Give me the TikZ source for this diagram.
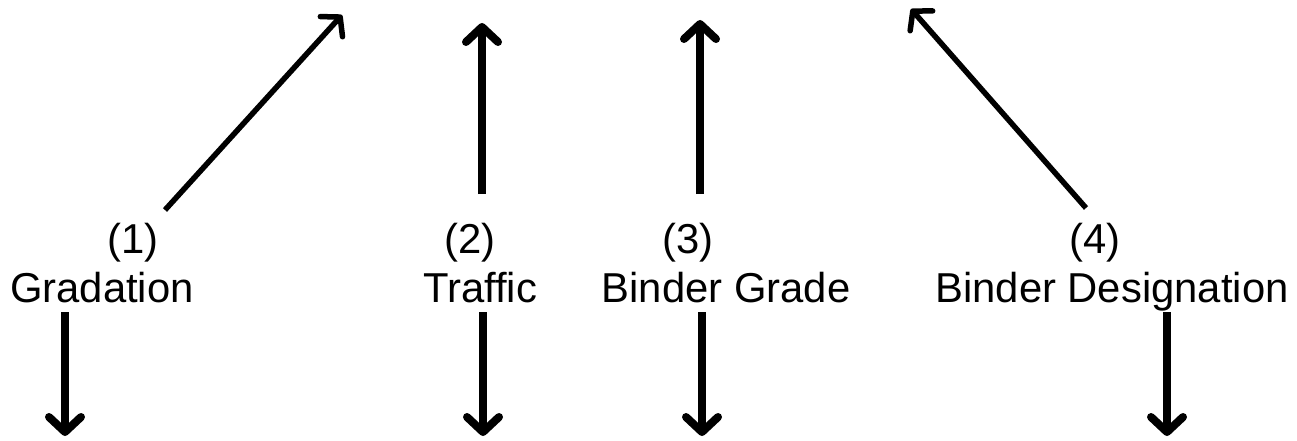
\documentclass[tikz,border=0pt]{standalone}
\usepackage{fontspec}
\setmainfont[Ligatures=NoCommon]{Liberation Sans}
\usetikzlibrary{arrows.meta}

\tikzset{
  factor/.style={font=\fontsize{41.8}{49}\selectfont, inner sep=0pt, anchor=base},
  thickarrow/.style={line width=8pt, -{Straight Barb[round,length=15pt,width=32pt]}},
  thinarrow/.style={line width=5.5pt, -{Straight Barb[round,length=13pt,width=30pt]}}
}

\begin{document}
\begin{tikzpicture}[x=1pt, y=-1pt]
    \useasboundingbox (0,0) rectangle (1297,440);
    % factor labels
    \node[factor] (num1) at (133,253) {(1)};
    \node[factor] (grad) at (102,302) {Gradation};
    \node[factor] (num2) at (470,253) {(2)};
    \node[factor] (traf) at (480,302) {Traffic};
    \node[factor] (num3) at (688,253) {(3)};
    \node[factor] (bgrade) at (726,302) {Binder Grade};
    \node[factor] (num4) at (1095,253) {(4)};
    \node[factor] (bdesig) at (1112,302) {Binder Designation};
    % arrows going up
    \coordinate (up1s) at (165,210);  \coordinate (up1e) at (342,15);
    \coordinate (up2s) at (482,194);  \coordinate (up2e) at (482,23);
    \coordinate (up3s) at (700,194);  \coordinate (up3e) at (700,20);
    \coordinate (up4s) at (1086,208); \coordinate (up4e) at (911,9);
    \draw[thinarrow] (up1s) -- (up1e);
    \draw[thickarrow] (up2s) -- (up2e);
    \draw[thickarrow] (up3s) -- (up3e);
    \draw[thinarrow] (up4s) -- (up4e);
    % arrows going down
    \foreach \k/\x in {1/65,2/483,3/702,4/1167} {
      \coordinate (down\k s) at (\x,312);
      \coordinate (down\k e) at (\x,436);
      \draw[thickarrow] (down\k s) -- (down\k e);
    }
\end{tikzpicture}
\end{document}
